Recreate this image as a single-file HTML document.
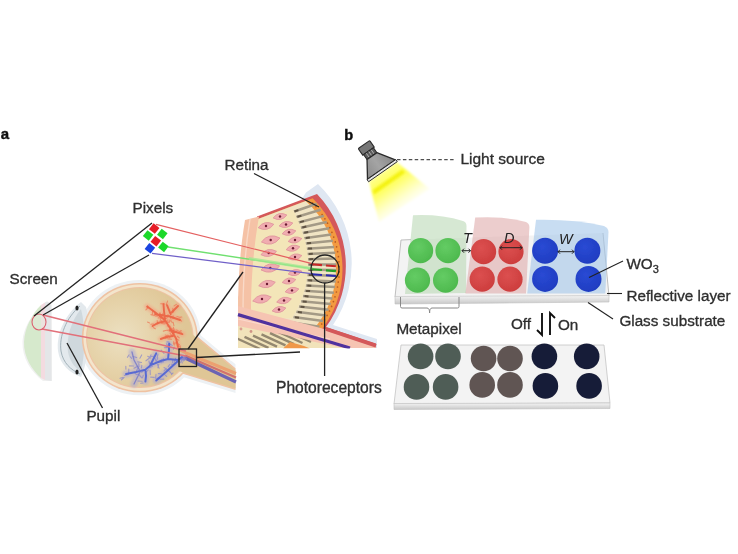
<!DOCTYPE html>
<html><head><meta charset="utf-8"><style>html,body{margin:0;padding:0;background:#fff;width:738px;height:554px;overflow:hidden}svg{display:block}text{font-family:"Liberation Sans",sans-serif}</style></head>
<body><svg width="738" height="554" viewBox="0 0 738 554"><defs>
<linearGradient id="beam" x1="0" y1="0" x2="0" y2="1">
 <stop offset="0" stop-color="#ffff90"/><stop offset="0.3" stop-color="#ffff50"/><stop offset="0.6" stop-color="#ffffa0"/><stop offset="1" stop-color="#ffffe8" stop-opacity="0.6"/></linearGradient>
<radialGradient id="eyeg" gradientUnits="userSpaceOnUse" cx="122" cy="337" r="64"><stop offset="0" stop-color="#ece0c2"/><stop offset="0.5" stop-color="#e6d3aa"/><stop offset="1" stop-color="#dfc696"/></radialGradient>
<linearGradient id="lamp" x1="0" y1="0" x2="1" y2="0"><stop offset="0" stop-color="#8a8a8a"/><stop offset="0.5" stop-color="#a4a4a4"/><stop offset="1" stop-color="#888"/></linearGradient>
<linearGradient id="slabfront" x1="0" y1="0" x2="0" y2="1"><stop offset="0" stop-color="#f4f4f4"/><stop offset="1" stop-color="#c8c8c8"/></linearGradient>
<radialGradient id="cg" cx="0.4" cy="0.35" r="0.7"><stop offset="0" stop-color="#64cc64"/><stop offset="1" stop-color="#4cb84c"/></radialGradient>
<radialGradient id="cr" cx="0.4" cy="0.35" r="0.7"><stop offset="0" stop-color="#dc5050"/><stop offset="1" stop-color="#cc3c3c"/></radialGradient>
<radialGradient id="cb" cx="0.4" cy="0.35" r="0.7"><stop offset="0" stop-color="#2a4ad4"/><stop offset="1" stop-color="#1e3cc0"/></radialGradient>
<filter id="blur1" x="-10%" y="-10%" width="120%" height="120%"><feGaussianBlur stdDeviation="0.5"/></filter>
<filter id="blur07" x="-10%" y="-10%" width="120%" height="120%"><feGaussianBlur stdDeviation="0.7"/></filter>
<filter id="blur2" x="-20%" y="-20%" width="140%" height="140%"><feGaussianBlur stdDeviation="1.2"/></filter>
</defs><filter id="gblur" x="0" y="0" width="100%" height="100%" filterUnits="userSpaceOnUse"><feGaussianBlur stdDeviation="0.45"/></filter><rect width="738" height="554" fill="#fff"/><g filter="url(#gblur)"><rect width="738" height="554" fill="#fff"/><text x="0.8" y="139" font-size="15" font-weight="bold" fill="#111" stroke="#111" stroke-width="0.45">a</text>
<text x="344.3" y="139.5" font-size="14.5" font-weight="bold" fill="#111" stroke="#111" stroke-width="0.45">b</text>
<g filter="url(#blur07)">
<path d="M47,301 C35,310 23,326 22.5,342 C22,358 31,372 43,381 L52,381 L52,305 Z" fill="#f0f1f0"/>
<path d="M41,305 C32,314 24.5,328 24,342 C23.5,357 32,370 41,378 Z" fill="#d6e9cc"/>
<path d="M41,305 L45,302.5 L45,380 L41,378 Z" fill="#f3dbe0"/>
<path d="M45,302.5 Q49,301 51,305 L51.5,381 L45,380 Z" fill="#e4e6e8"/>
</g>
<g filter="url(#blur07)">
<ellipse cx="139.8" cy="337.6" rx="61.0" ry="57.7" fill="#edf1f4" /><path d="M160,301.4 L235.5,364.3 L235.5,393.1 L160,370.0 Z" fill="#edf1f4"/>
</g>
<g filter="url(#blur07)">
<path d="M81,302 C64,315 56,335 58,351 C60,365 70,373 81,377 C89,360 91,326 86,307 Z" fill="#e3e9ed"/>
<path d="M80,306 C66,318 59,336 61,351 C63,363 71,370 80,374" fill="none" stroke="#9aaab2" stroke-width="0.9"/>
<path d="M81,309 C71,321 66,338 68,352 C70,362 75,368 81,371 C85,355 86,328 81,309 Z" fill="#cfd8dd"/>
</g>
<g filter="url(#blur07)">
<ellipse cx="139.8" cy="337.6" rx="58" ry="54.7" fill="#efc2a2" /><path d="M160,305.3 L235.5,368.2 L235.5,390.0 L160,366.8 Z" fill="#efc2a2"/>
<ellipse cx="139.8" cy="337.6" rx="56.4" ry="53.1" fill="#f3e5cc" />
<ellipse cx="139.8" cy="337.6" rx="53.8" ry="50.5" fill="#eec2a4" />
<ellipse cx="139.8" cy="337.6" rx="52.8" ry="49.5" fill="url(#eyeg)" />
<path d="M160,307.3 L235.5,370.2 L235.5,388.4 L160,365.2 Z" fill="url(#eyeg)"/>
</g>
<g filter="url(#blur07)">
<path d="M180,350 L186,353 L236,373.5" stroke="#eca070" stroke-width="3" fill="none"/>
<path d="M185,355.5 L236,377.5" stroke="#d06868" stroke-width="2.4" fill="none" opacity="0.9"/>
<path d="M180,358.5 L185,358 L236,382" stroke="#6c64b4" stroke-width="3.2" fill="none"/>
</g>
<g filter="url(#blur2)" opacity="0.55"><path d="M147.2,306.6 L156,313 L165.3,320.6 L169.8,327.8 L176.1,338.6 L178,347 M165,319 L164,311 L163.5,304.3 M155,314 L170,316.5 L180,320 M165,321 L158,323 L152.6,326 M170,330 L176,332 L182.4,334.1 M173,336 L166,337 L160.8,339 M167,305.2 L170.7,314.2 M172,312 L178,306" stroke="#f4a080" stroke-width="6" stroke-linecap="round" fill="none"/></g>
<g filter="url(#blur2)" opacity="0.5"><path d="M182,357 L177.9,360 L168,359 L160.5,361 L150.8,365 L145.4,369.7 L136,372 L126,374 M168,359 L169,350 L169.2,343.7 M150.8,364.3 L156.2,353.4 M145.4,369.7 L146,376 L145.4,381.6 M177.9,361 L166,372 L156.2,380.5 M140,371 L134,360 L132,352 M140,372 L134,384" stroke="#a8a4d8" stroke-width="7" stroke-linecap="round" fill="none"/></g>
<path d="M176.9,316.5 L180.3,317.6 M165.2,318.3 L163.1,318.2 M178.1,330.6 L176.1,329.9 M174.3,329.8 L172.5,328.8 M149.6,322.9 L147.5,322.1 M171.5,328.1 L170.2,331.5 M173.4,343.1 L174.2,345.2 M161.2,317.9 L158.2,317.9 M170.6,320.6 L169.0,322.5 M178.8,340.2 L176.1,338.8 M179.6,317.2 L181.8,317.0 M171.7,330.2 L174.3,329.0 M165.4,319.4 L167.2,317.5 M165.8,321.7 L162.3,322.7 M159.7,316.3 L162.9,317.6 M171.1,335.0 L170.1,333.2 M167.7,337.6 L165.3,337.7 M160.5,313.2 L157.6,315.6 M160.7,318.4 L160.3,320.7 M181.2,330.6 L178.8,332.0 M161.2,320.3 L162.3,322.5 M159.5,313.0 L160.6,315.3 M172.6,332.7 L169.0,331.1 M173.0,311.2 L172.8,308.3 M153.6,324.0 L150.8,324.3 M173.5,341.8 L174.9,344.1 M154.7,315.5 L150.9,314.6 M148.2,307.5 L145.9,309.8 M179.4,319.2 L181.6,321.2 M167.9,335.0 L170.0,337.8 M157.8,316.2 L155.4,316.0 M170.8,313.7 L173.8,311.9 M171.1,319.2 L170.3,316.9 M164.8,320.8 L165.4,323.8 M166.2,304.6 L167.7,300.9 M180.4,348.3 L180.2,345.8 M169.2,312.8 L172.8,312.6 M164.9,338.6 L167.7,337.8 M169.1,319.8 L169.5,322.2 M163.5,318.8 L166.7,318.5 M147.0,308.0 L147.7,305.9 M173.5,330.3 L173.5,327.4 M176.2,342.7 L179.5,344.8 M153.3,327.6 L155.3,328.8 M166.6,330.3 L163.3,331.1 M167.4,335.7 L165.3,335.0 M152.3,310.4 L155.1,312.5 M171.7,335.5 L172.8,333.3 M152.4,314.0 L152.6,311.4 M174.1,305.9 L176.4,304.4 M171.5,339.3 L167.9,338.9 M164.4,303.9 L160.7,303.7 M178.0,345.0 L179.3,346.8 M170.3,326.2 L167.2,325.9 M171.4,320.9 L172.2,322.8 M167.0,323.7 L167.2,319.9 M179.2,337.8 L177.3,336.3 M160.5,315.3 L156.6,315.8 M173.1,315.7 L172.9,318.8 M167.9,314.7 L170.0,316.7 M163.7,317.4 L164.3,320.0 M173.9,325.6 L173.2,322.3 M170.6,329.7 L167.2,330.4 M165.4,322.2 L169.1,321.9 M177.2,341.7 L174.9,343.4 M161.4,323.5 L164.5,323.9 M181.6,332.2 L179.1,331.9 M157.2,320.6 L157.7,324.3 M162.4,315.8 L162.9,313.3 M174.2,333.5 L172.4,330.1" stroke="#ee7a5a" stroke-width="1.1" stroke-linecap="round" fill="none" opacity="0.75" filter="url(#blur07)"/>
<path d="M168.5,370.6 L165.1,369.0 M157.4,364.4 L159.1,368.3 M173.4,349.3 L174.2,347.0 M122.8,377.4 L120.0,378.3 M131.7,358.3 L130.0,356.7 M172.8,359.7 L172.6,362.4 M155.2,358.3 L156.1,361.5 M136.3,374.4 L138.6,374.3 M181.1,359.9 L182.3,363.0 M159.8,377.2 L156.7,378.5 M178.9,362.5 L179.5,365.2 M136.4,374.7 L134.3,372.3 M150.6,377.1 L154.2,377.4 M168.2,346.6 L166.6,343.9 M138.8,363.6 L139.0,366.5 M158.3,373.6 L161.4,373.7 M150.1,370.2 L150.3,374.6 M151.1,354.9 L149.8,357.0 M169.2,342.0 L166.9,341.9 M172.2,345.4 L169.5,343.8 M150.6,358.0 L147.7,356.3 M146.0,372.1 L148.3,369.9 M157.9,354.4 L157.1,357.9 M141.7,372.3 L144.6,370.0 M133.5,366.0 L129.4,365.9 M182.0,360.2 L185.0,357.8 M164.0,353.4 L161.1,350.1 M180.5,362.3 L178.0,359.6 M168.4,349.1 L169.6,345.3 M141.6,362.5 L137.7,361.9 M156.0,374.3 L155.6,378.2 M128.4,374.5 L124.4,375.5 M163.0,362.1 L163.3,358.5 M128.8,369.1 L128.7,373.0 M154.2,356.2 L150.9,356.5 M158.7,364.3 L157.9,367.6 M160.4,379.3 L163.9,379.1 M158.7,362.4 L162.0,362.8 M141.8,365.2 L141.5,367.9 M125.9,369.1 L125.8,366.2 M142.1,381.2 L137.9,381.0 M143.0,383.0 L140.7,383.2 M186.5,358.8 L183.3,361.0 M168.3,366.6 L169.5,364.7 M149.0,367.9 L152.4,366.2 M149.2,358.2 L146.0,360.8 M161.8,359.6 L161.4,361.9 M151.4,364.5 L149.7,362.6 M168.4,346.2 L169.0,342.2 M171.5,373.6 L168.5,370.5 M133.0,356.4 L136.7,357.6 M164.1,371.0 L166.4,368.6 M129.1,354.9 L127.4,357.3 M168.1,347.4 L164.3,347.8 M148.9,361.0 L150.0,365.2 M138.6,367.0 L136.6,370.5 M164.0,367.4 L166.6,369.1 M156.8,360.4 L157.8,357.9 M180.4,359.1 L177.5,360.9 M174.9,364.2 L171.3,364.2 M142.0,378.0 L139.2,375.0 M124.1,377.5 L121.3,380.0 M171.4,374.7 L173.0,373.0 M174.2,362.3 L175.6,358.2 M134.0,368.2 L137.7,366.3 M164.7,374.7 L166.7,376.4 M139.9,358.3 L141.7,354.9 M157.3,378.7 L159.9,378.7 M143.3,375.2 L142.5,377.6 M169.1,351.4 L169.3,349.0" stroke="#8a88cc" stroke-width="1.1" stroke-linecap="round" fill="none" opacity="0.75" filter="url(#blur07)"/>
<g filter="url(#blur07)"><path d="M147.2,306.6 L156,313 L165.3,320.6 L169.8,327.8 L176.1,338.6 L178,347 M165,319 L164,311 L163.5,304.3 M155,314 L170,316.5 L180,320 M165,321 L158,323 L152.6,326 M170,330 L176,332 L182.4,334.1 M173,336 L166,337 L160.8,339 M167,305.2 L170.7,314.2 M172,312 L178,306" stroke="#ec6444" stroke-width="1.9" stroke-linecap="round" fill="none" opacity="0.92"/></g>
<g filter="url(#blur07)"><path d="M182,357 L177.9,360 L168,359 L160.5,361 L150.8,365 L145.4,369.7 L136,372 L126,374 M168,359 L169,350 L169.2,343.7 M150.8,364.3 L156.2,353.4 M145.4,369.7 L146,376 L145.4,381.6 M177.9,361 L166,372 L156.2,380.5" stroke="#5064d4" stroke-width="2" stroke-linecap="round" fill="none" opacity="0.92"/><path d="M140,371 L134,360 L132,352 M140,372 L134,384" stroke="#7478c8" stroke-width="1.3" stroke-linecap="round" fill="none" opacity="0.8"/></g>
<path d="M43,315 L186,351 M42,329 L186,356" stroke="#e2707a" stroke-width="1.5" fill="none" filter="url(#blur1)"/>
<ellipse cx="39" cy="322" rx="7" ry="8" fill="#e4ecdc" fill-opacity="0.5" stroke="#dc6070" stroke-width="1.1"/>
<ellipse cx="77" cy="308" rx="1.6" ry="2.6" fill="#222"/>
<ellipse cx="77" cy="372" rx="1.6" ry="2.6" fill="#222"/>
<g filter="url(#blur1)">
<path d="M306,192.5 L318,184 A110.5,110.5 0 0 1 333,325 L377,339 L377,348 L238,348 L238,300 Z" fill="#dfe7f2"/>
<path d="M257,216.5 L317,194 A104,104 0 0 1 326,327 L376,343.5 L376,348 L238,348 L238,300 Z" fill="#d4585a"/>
<path d="M250,221.9 L312.6,198.3 A98.5,98.5 0 0 1 317.2,334.9 L250,334.9 Z" fill="#f39a40"/>
<path d="M250,221.9 L305.8,200.9 A92,92 0 0 1 312.4,330.6 L250,330.6 Z" fill="#f0e4c4"/>
</g>
<g opacity="0.75"><circle cx="312.5" cy="202.9" r="0.85" fill="#a84818"/><circle cx="315.9" cy="206.6" r="0.85" fill="#a84818"/><circle cx="319.1" cy="210.5" r="0.85" fill="#a84818"/><circle cx="322.1" cy="214.6" r="0.85" fill="#a84818"/><circle cx="324.9" cy="218.8" r="0.85" fill="#a84818"/><circle cx="327.5" cy="223.2" r="0.85" fill="#a84818"/><circle cx="329.8" cy="227.7" r="0.85" fill="#a84818"/><circle cx="331.9" cy="232.3" r="0.85" fill="#a84818"/><circle cx="333.7" cy="237.1" r="0.85" fill="#a84818"/><circle cx="335.3" cy="241.9" r="0.85" fill="#a84818"/><circle cx="336.6" cy="246.8" r="0.85" fill="#a84818"/><circle cx="337.6" cy="251.7" r="0.85" fill="#a84818"/><circle cx="338.4" cy="256.7" r="0.85" fill="#a84818"/><circle cx="338.9" cy="261.8" r="0.85" fill="#a84818"/><circle cx="339.2" cy="266.8" r="0.85" fill="#a84818"/><circle cx="339.2" cy="271.9" r="0.85" fill="#a84818"/><circle cx="338.9" cy="277.0" r="0.85" fill="#a84818"/><circle cx="338.3" cy="282.0" r="0.85" fill="#a84818"/><circle cx="337.5" cy="287.0" r="0.85" fill="#a84818"/><circle cx="336.4" cy="292.0" r="0.85" fill="#a84818"/><circle cx="335.0" cy="296.8" r="0.85" fill="#a84818"/><circle cx="333.4" cy="301.6" r="0.85" fill="#a84818"/><circle cx="331.6" cy="306.4" r="0.85" fill="#a84818"/><circle cx="329.5" cy="311.0" r="0.85" fill="#a84818"/><circle cx="327.1" cy="315.4" r="0.85" fill="#a84818"/><circle cx="324.5" cy="319.8" r="0.85" fill="#a84818"/><circle cx="321.7" cy="324.0" r="0.85" fill="#a84818"/></g>
<g filter="url(#blur1)"><path d="M292.9,212.0 L316.7,203.8 M295.9,217.2 L320.6,209.8 M298.5,222.5 L323.9,215.9 M300.8,227.8 L326.7,222.0 M302.7,233.0 L329.2,228.2 M304.3,238.2 L331.2,234.4 M305.6,243.5 L332.9,240.7 M306.6,248.8 L334.2,246.9 M307.3,254.0 L335.3,252.7 M307.7,259.2 L336.0,258.6 M307.9,264.5 L336.4,264.4 M307.8,269.8 L336.5,270.1 M307.4,275.0 L336.3,275.8 M306.7,280.2 L335.8,281.4 M305.8,285.5 L335.0,287.1 M304.6,290.8 L333.9,292.7 M303.0,296.0 L332.4,298.4 M301.2,301.2 L330.7,304.1 M299.0,306.5 L328.5,309.7 M296.4,311.8 L326.0,315.4 M293.5,317.0 L323.0,321.1 M290.1,322.2 L319.5,326.7" stroke="#a49a86" stroke-width="2.5" fill="none"/><path d="M294.4,211.5 L298.4,210.1 M297.4,216.8 L301.4,215.6 M300.0,222.1 L304.0,221.1 M302.3,227.4 L306.3,226.5 M304.2,232.7 L308.2,232.0 M305.8,238.0 L309.8,237.5 M307.1,243.3 L311.1,242.9 M308.1,248.6 L312.1,248.4 M308.8,253.9 L312.8,253.8 M309.2,259.2 L313.2,259.1 M309.4,264.5 L313.4,264.5 M309.3,269.8 L313.3,269.8 M308.9,275.0 L312.9,275.1 M308.2,280.3 L312.2,280.5 M307.3,285.6 L311.3,285.8 M306.1,290.9 L310.1,291.1 M304.5,296.1 L308.5,296.5 M302.7,301.4 L306.7,301.8 M300.5,306.7 L304.5,307.1 M297.9,311.9 L301.9,312.4 M295.0,317.2 L299.0,317.8 M291.6,322.5 L295.6,323.1" stroke="#5e5242" stroke-width="2" fill="none"/></g>
<path d="M258,220 L293,209 C300,225 309,245 308,265 C307,290 300,305 292,318 L238,320 L238,300 Z" fill="#f3e5b8" filter="url(#blur1)"/>
<path d="M245,220 L259,216.5 C253,250 251,285 251,312 L238,312 C238,280 240,250 245,220 Z" fill="#f5c2a6" filter="url(#blur1)"/>
<path d="M250,219 C245,250 243,285 243,312" stroke="#f9dac8" stroke-width="1.3" fill="none" filter="url(#blur1)"/>
<g filter="url(#blur1)"><path d="M273,216.5 Q280,210.55 287,216.5 Q280,222.45 273,216.5 Z" fill="#f0acb0" stroke="#e0949c" stroke-width="0.8" transform="rotate(-12 280 216.5)"/><circle cx="280" cy="216.5" r="1.2" fill="#6a1a30"/><path d="M258,226 Q266,219.2 274,226 Q266,232.8 258,226 Z" fill="#f0acb0" stroke="#e0949c" stroke-width="0.8" transform="rotate(-12 266 226)"/><circle cx="266" cy="226" r="1.2" fill="#6a1a30"/><path d="M279,224.5 Q286,218.55 293,224.5 Q286,230.45 279,224.5 Z" fill="#f0acb0" stroke="#e0949c" stroke-width="0.8" transform="rotate(-12 286 224.5)"/><circle cx="286" cy="224.5" r="1.2" fill="#6a1a30"/><path d="M282,232.3 Q289,226.35000000000002 296,232.3 Q289,238.25 282,232.3 Z" fill="#f0acb0" stroke="#e0949c" stroke-width="0.8" transform="rotate(-12 289 232.3)"/><circle cx="289" cy="232.3" r="1.2" fill="#6a1a30"/><path d="M261.2,240 Q270.7,231.925 280.2,240 Q270.7,248.075 261.2,240 Z" fill="#f0acb0" stroke="#e0949c" stroke-width="0.8" transform="rotate(-12 270.7 240)"/><circle cx="270.7" cy="240" r="1.2" fill="#6a1a30"/><path d="M288,240 Q295,234.05 302,240 Q295,245.95 288,240 Z" fill="#f0acb0" stroke="#e0949c" stroke-width="0.8" transform="rotate(-12 295 240)"/><circle cx="295" cy="240" r="1.2" fill="#6a1a30"/><path d="M260.7,253 Q268.7,246.2 276.7,253 Q268.7,259.8 260.7,253 Z" fill="#f0acb0" stroke="#e0949c" stroke-width="0.8" transform="rotate(-12 268.7 253)"/><circle cx="268.7" cy="253" r="1.2" fill="#6a1a30"/><path d="M286,248.2 Q293,242.25 300,248.2 Q293,254.14999999999998 286,248.2 Z" fill="#f0acb0" stroke="#e0949c" stroke-width="0.8" transform="rotate(-12 293 248.2)"/><circle cx="293" cy="248.2" r="1.2" fill="#6a1a30"/><path d="M288,257 Q295,251.05 302,257 Q295,262.95 288,257 Z" fill="#f0acb0" stroke="#e0949c" stroke-width="0.8" transform="rotate(-12 295 257)"/><circle cx="295" cy="257" r="1.2" fill="#6a1a30"/><path d="M260.8,268 Q270.3,259.925 279.8,268 Q270.3,276.075 260.8,268 Z" fill="#f0acb0" stroke="#e0949c" stroke-width="0.8" transform="rotate(-12 270.3 268)"/><circle cx="270.3" cy="268" r="1.2" fill="#6a1a30"/><path d="M288,272.6 Q295,266.65000000000003 302,272.6 Q295,278.55 288,272.6 Z" fill="#f0acb0" stroke="#e0949c" stroke-width="0.8" transform="rotate(-12 295 272.6)"/><circle cx="295" cy="272.6" r="1.2" fill="#6a1a30"/><path d="M258.5,284 Q267,276.775 275.5,284 Q267,291.225 258.5,284 Z" fill="#f0acb0" stroke="#e0949c" stroke-width="0.8" transform="rotate(-12 267 284)"/><circle cx="267" cy="284" r="1.2" fill="#6a1a30"/><path d="M282,281 Q289,275.05 296,281 Q289,286.95 282,281 Z" fill="#f0acb0" stroke="#e0949c" stroke-width="0.8" transform="rotate(-12 289 281)"/><circle cx="289" cy="281" r="1.2" fill="#6a1a30"/><path d="M285,290.4 Q292,284.45 299,290.4 Q292,296.34999999999997 285,290.4 Z" fill="#f0acb0" stroke="#e0949c" stroke-width="0.8" transform="rotate(-12 292 290.4)"/><circle cx="292" cy="290.4" r="1.2" fill="#6a1a30"/><path d="M252.5,299 Q262,290.925 271.5,299 Q262,307.075 252.5,299 Z" fill="#f0acb0" stroke="#e0949c" stroke-width="0.8" transform="rotate(-12 262 299)"/><circle cx="262" cy="299" r="1.2" fill="#6a1a30"/><path d="M276.5,300.5 Q284,294.125 291.5,300.5 Q284,306.875 276.5,300.5 Z" fill="#f0acb0" stroke="#e0949c" stroke-width="0.8" transform="rotate(-12 284 300.5)"/><circle cx="284" cy="300.5" r="1.2" fill="#6a1a30"/><path d="M272,309.5 Q279,303.55 286,309.5 Q279,315.45 272,309.5 Z" fill="#f0acb0" stroke="#e0949c" stroke-width="0.8" transform="rotate(-12 279 309.5)"/><circle cx="279" cy="309.5" r="1.2" fill="#6a1a30"/></g>
<g filter="url(#blur1)">
<path d="M238,306 L326,329.5 L376,346.5 L376,348 L238,348 Z" fill="#f6c4b2"/>
<path d="M238,326 L344,348 L238,348 Z" fill="#f1e3ba"/>
<path d="M238,319 L330,339" stroke="#fbd8cc" stroke-width="1.2"/>
</g>
<clipPath id="lowclip"><path d="M238,324 L346,348.5 L238,348.5 Z"/></clipPath>
<g clip-path="url(#lowclip)"><path d="M236.0,338.0 L260.0,349.0 M244.5,336.8 L268.5,347.8 M253.0,335.6 L277.0,346.6 M261.5,334.4 L285.5,345.4 M270.0,333.2 L294.0,344.2 M278.5,332.0 L302.5,343.0 M287.0,330.8 L311.0,341.8 M295.5,329.6 L319.5,340.6" stroke="#948870" stroke-width="2.4" fill="none" filter="url(#blur1)"/></g>
<circle cx="241" cy="329" r="1.4" fill="#d08080" opacity="0.7"/><circle cx="251" cy="331.5" r="1.4" fill="#c07070" opacity="0.7"/>
<path d="M283,348.5 L290,342 L304,346 L310,348.5 Z" fill="#f09848" filter="url(#blur1)"/>
<path d="M238,314.6 L350,348" stroke="#50309e" stroke-width="3.2" filter="url(#blur1)"/>
<path d="M326,329 L376,345.8" stroke="#d4585a" stroke-width="3.6" filter="url(#blur1)"/>
<rect x="230" y="348.5" width="160" height="12" fill="#fff"/>
<g filter="url(#blur07)">
<path d="M156,224.4 L313,263.8" stroke="#e46060" stroke-width="1.2"/>
<path d="M168,247 L313,268.8" stroke="#70e070" stroke-width="1.3"/>
<path d="M249,258.5 L313,268.8" stroke="#a0e890" stroke-width="3" opacity="0.75"/>
<path d="M152,253.3 L313,273.8" stroke="#7060c8" stroke-width="1.2"/>
<path d="M312,264.3 L338,266.4" stroke="#c82828" stroke-width="2.1" stroke-dasharray="10 4 10 3"/>
<path d="M312,269.3 L338,271.3" stroke="#28a028" stroke-width="2.1" stroke-dasharray="10 4 10 3"/>
<path d="M312,274.3 L338,276.2" stroke="#2a2ab0" stroke-width="2.1" stroke-dasharray="10 4 10 3"/>
</g>
<g stroke="#222" stroke-width="1.3" fill="none"><path d="M34,316 L152,223"/><path d="M43,315 L149,255"/><rect x="179" y="349" width="17.5" height="17.5"/><path d="M188,349 L243,272"/><path d="M196.5,357.5 L300,352"/><path d="M67,343 L102.5,408"/><path d="M254,173.5 L319,207"/><path d="M324.6,283 L324.6,376"/><circle cx="325" cy="269" r="14"/></g>
<rect x="150.45" y="224.85" width="7.5" height="7.5" fill="#e61c28" transform="rotate(38 154.2 228.6)"/>
<rect x="144.35" y="231.65" width="7.5" height="7.5" fill="#1fd82c" transform="rotate(38 148.1 235.4)"/>
<rect x="158.55" y="230.25" width="7.5" height="7.5" fill="#1fd82c" transform="rotate(38 162.3 234)"/>
<rect x="152.05" y="237.45" width="7.5" height="7.5" fill="#e61c28" transform="rotate(38 155.8 241.2)"/>
<rect x="159.65" y="243.15" width="7.5" height="7.5" fill="#1fd82c" transform="rotate(38 163.4 246.9)"/>
<rect x="146.15" y="244.55" width="7.5" height="7.5" fill="#1a44e0" transform="rotate(38 149.9 248.3)"/>
<g transform="translate(381.7 170) rotate(-35)"><path d="M-17,2 L17,2 L28.5,43 L-32,41 Z" fill="url(#beam)" filter="url(#blur2)"/><path d="M-19,11.5 L17,11.5 L17.5,15.5 L-20,15.5 Z" fill="#f0ee00" opacity="0.8" filter="url(#blur2)"/><path d="M-6,-31 L6,-31 Q7,-31 7,-30 L7,-23 L-7,-23 L-7,-30 Q-7,-31 -6,-31 Z" fill="#767676" stroke="#2a2a2a" stroke-width="1.1"/><rect x="-6" y="-23" width="12" height="6" fill="#5c5c5c" stroke="#2a2a2a" stroke-width="1"/><path d="M-3,-22.5 L-3,-17.5 M0,-22.5 L0,-17.5 M3,-22.5 L3,-17.5" stroke="#b0b0b0" stroke-width="0.9"/><path d="M-6,-17 L6,-17 L17,-0.5 L-17,-0.5 Z" fill="url(#lamp)" stroke="#2a2a2a" stroke-width="1.3" stroke-linejoin="round"/><rect x="-17.5" y="-0.5" width="35" height="2.6" fill="#e6e6e6" stroke="#2a2a2a" stroke-width="0.9"/></g>
<path d="M397,159.5 L456,159.5" stroke="#505050" stroke-width="1.25" stroke-dasharray="3.5 2.4"/>
<g filter="url(#blur07)">
<path d="M401,240 L603,233 L609,296 L395,297 Z" fill="#f3f3f3"/>
<path d="M411,239.6 L401,240 L395,297 M603,233 L609,296" fill="none" stroke="#b8b8b8" stroke-width="0.9"/>
<path d="M395,296.5 L609,295.5 L609,302 L395,304 Z" fill="url(#slabfront)" stroke="#c0c0c0" stroke-width="0.6"/>
<path d="M413,215.3 Q440,214 463,221 Q466.5,222 466.5,226 L466,293 L405,294 Z" fill="#b4d6ae" fill-opacity="0.55"/>
<path d="M475.2,217.6 Q505,216 526,222 Q529.4,223.5 529.4,227 L526,293.5 L465.4,293.5 Z" fill="#dca4a4" fill-opacity="0.55"/>
<path d="M536,219.8 Q575,219 604,226 Q608.5,228 608.5,232 L605.3,293.5 L527.2,293.5 Z" fill="#a4c6ea" fill-opacity="0.6"/>
</g>
<g filter="url(#blur07)">
<circle cx="420.6" cy="250.7" r="12.6" fill="url(#cg)" />
<circle cx="448" cy="250.7" r="12.6" fill="url(#cg)" />
<circle cx="417.5" cy="280.2" r="12.6" fill="url(#cg)" />
<circle cx="445.6" cy="280.2" r="12.6" fill="url(#cg)" />
<circle cx="483.6" cy="251.7" r="12.6" fill="url(#cr)" />
<circle cx="511" cy="251.7" r="12.6" fill="url(#cr)" />
<circle cx="482.2" cy="279.2" r="12.6" fill="url(#cr)" />
<circle cx="510" cy="279.2" r="12.6" fill="url(#cr)" />
<circle cx="545.1" cy="250.8" r="13" fill="url(#cb)" />
<circle cx="587.4" cy="250.8" r="13" fill="url(#cb)" />
<circle cx="545.1" cy="278.9" r="13" fill="url(#cb)" />
<circle cx="588.5" cy="278.9" r="13" fill="url(#cb)" />
</g>
<text x="463" y="242.5" font-size="14.5" font-style="italic" fill="#222">T</text>
<text x="504" y="243" font-size="14.5" font-style="italic" fill="#222">D</text>
<text x="559" y="243.5" font-size="14.5" font-style="italic" fill="#222">W</text>
<g stroke="#222" stroke-width="1" fill="none"><path d="M462,250.7 L470.5,250.7 M464,248.7 L462,250.7 L464,252.7 M468.5,248.7 L470.5,250.7 L468.5,252.7"/><path d="M500,247.7 L522,247.7 M502,245.7 L500,247.7 L502,249.7 M520,245.7 L522,247.7 L520,249.7"/><path d="M558,251.7 L574,251.7 M560,249.7 L558,251.7 L560,253.7 M572,249.7 L574,251.7 L572,253.7"/></g>
<path d="M589,277.4 L623,261" stroke="#222" stroke-width="1.1"/>
<path d="M607,293.5 L622,293.5" stroke="#222" stroke-width="1.1"/>
<path d="M588,302.5 L613,319" stroke="#222" stroke-width="1.1"/>
<path d="M400.5,297 L400.5,306.5 Q400.5,308 402,308 L427,308 Q429.6,308 429.6,313 Q429.6,308 432,308 L457.5,308 Q459,308 459,306.5 L459,297" stroke="#888" stroke-width="1" fill="none"/>
<path d="M542,313 L542,335 L537,330" stroke="#111" stroke-width="1.9" fill="none"/>
<path d="M550,335 L550,313 L555,318" stroke="#111" stroke-width="1.9" fill="none"/>
<g filter="url(#blur07)">
<path d="M401,345 L604,345 L610,403 L394,404 Z" fill="#f3f3f3" stroke="#c4c4c4" stroke-width="0.8"/>
<path d="M394,403.5 L610,403 L610,408.5 L394,409.5 Z" fill="url(#slabfront)" stroke="#c0c0c0" stroke-width="0.6"/>
<circle cx="420.6" cy="356.4" r="12.8" fill="#505d57" />
<circle cx="448" cy="356.4" r="12.8" fill="#505d57" />
<circle cx="416.5" cy="386.9" r="12.8" fill="#505d57" />
<circle cx="445.6" cy="386.9" r="12.8" fill="#505d57" />
<circle cx="483.6" cy="358.5" r="12.8" fill="#605553" />
<circle cx="510" cy="358.5" r="12.8" fill="#605553" />
<circle cx="482.2" cy="384.9" r="12.8" fill="#605553" />
<circle cx="510" cy="384.9" r="12.8" fill="#605553" />
<circle cx="544.4" cy="356.4" r="12.8" fill="#181d38" />
<circle cx="586.7" cy="356.4" r="12.8" fill="#181d38" />
<circle cx="545.4" cy="385.9" r="12.8" fill="#181d38" />
<circle cx="589.1" cy="385.9" r="12.8" fill="#181d38" />
</g>
<text x="9.5" y="284.4" font-size="15.25" fill="#2e2e2e" stroke="#2e2e2e" stroke-width="0.32">Screen</text>
<text x="132.5" y="213" font-size="15.25" fill="#2e2e2e" stroke="#2e2e2e" stroke-width="0.32">Pixels</text>
<text x="224.5" y="169.5" font-size="15.25" fill="#2e2e2e" stroke="#2e2e2e" stroke-width="0.32">Retina</text>
<text x="86.4" y="421.2" font-size="15.25" fill="#2e2e2e" stroke="#2e2e2e" stroke-width="0.32">Pupil</text>
<text x="276" y="393" font-size="15.6" fill="#2e2e2e" stroke="#2e2e2e" stroke-width="0.32">Photoreceptors</text>
<text x="460.4" y="164.2" font-size="15.5" fill="#2e2e2e" stroke="#2e2e2e" stroke-width="0.32">Light source</text>
<text x="626.4" y="268.5" font-size="15.25" fill="#2e2e2e" stroke="#2e2e2e" stroke-width="0.32">WO<tspan font-size="11" dy="4">3</tspan></text>
<text x="626.4" y="301" font-size="15.25" fill="#2e2e2e" stroke="#2e2e2e" stroke-width="0.32">Reflective layer</text>
<text x="619.4" y="326.3" font-size="15.25" fill="#2e2e2e" stroke="#2e2e2e" stroke-width="0.32">Glass substrate</text>
<text x="396.4" y="334.1" font-size="15.25" fill="#2e2e2e" stroke="#2e2e2e" stroke-width="0.32">Metapixel</text>
<text x="511" y="329.4" font-size="15.25" fill="#2e2e2e" stroke="#2e2e2e" stroke-width="0.32">Off</text>
<text x="558" y="329.5" font-size="15.25" fill="#2e2e2e" stroke="#2e2e2e" stroke-width="0.32">On</text></g></svg></body></html>
